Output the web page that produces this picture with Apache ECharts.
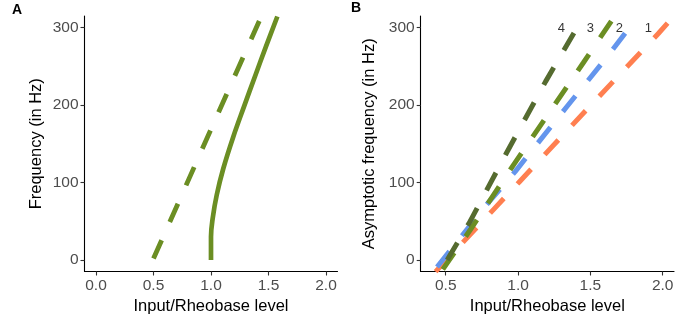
<!DOCTYPE html>
<html>
<head>
<meta charset="utf-8">
<script src="https://cdn.jsdelivr.net/npm/echarts@6/dist/echarts.min.js"></script>
<style>
html,body{margin:0;padding:0;background:#fff;}
#c{width:699px;height:325px;}
</style>
</head>
<body>
<div id="c"></div>
<script>
// ---- Data ----
// Panel A
const aDashed = [[0.50, 2], [1.44, 315]];
const aSolid = [[1.00, 0], [1.00, 30], [1.015, 54], [1.05, 84], [1.107, 118], [1.194, 159], [1.29, 199], [1.383, 237], [1.48, 276], [1.577, 314]];
// Panel B: four asymptotic-frequency lines
const bLine1 = [[0.43, -15], [0.83, 65], [1.01, 101], [1.50, 199], [1.97, 292], [2.06, 311]];
const bLine2 = [[0.44, -9], [0.79, 73], [0.98, 114], [1.33, 196], [1.59, 256], [1.76, 297]];
const bLine3 = [[0.48, -12], [0.67, 39], [0.97, 123], [1.45, 254], [1.67, 315]];
const bLine4 = [[0.51, 0], [0.66, 47], [0.92, 138], [1.19, 230], [1.40, 297]];
const bLabelText = ['4', '3', '2', '1'];
const bLabelX = [1.30, 1.50, 1.70, 1.90];
const bLabelY = [298, 298, 298, 298];
// Tick labels
const xTicksA = [0, 0.5, 1.0, 1.5, 2.0];
const xTicksB = [0.5, 1.0, 1.5, 2.0];
const yTicks = [0, 100, 200, 300];

const FONT = "'Liberation Sans', Arial, sans-serif";
const chart = echarts.init(document.getElementById('c'), null, {renderer: 'canvas'});

function xAxisDef(gridIndex, min, max, ticks) {
  return {
    type: 'value', gridIndex, min, max,
    name: 'Input/Rheobase level', nameLocation: 'middle', nameGap: 25,
    nameTextStyle: {fontFamily: FONT, fontSize: 16.5, color: '#000'},
    axisLine: {show: true, onZero: false, lineStyle: {color: '#000', width: 1.1}},
    axisTick: {show: true, length: 4, customValues: ticks, lineStyle: {color: '#333', width: 1.1}},
    axisLabel: {customValues: ticks, margin: 6, fontFamily: FONT, fontSize: 15.5, color: '#4D4D4D',
      formatter: v => Number(v).toFixed(1)},
    splitLine: {show: false}
  };
}
function yAxisDef(gridIndex, name, gap) {
  return {
    type: 'value', gridIndex, min: -14.8, max: 314.6,
    name, nameLocation: 'middle', nameGap: gap,
    nameTextStyle: {fontFamily: FONT, fontSize: 16.5, color: '#000'},
    axisLine: {show: true, onZero: false, lineStyle: {color: '#000', width: 1.1}},
    axisTick: {show: true, length: 4, customValues: yTicks, lineStyle: {color: '#333', width: 1.1}},
    axisLabel: {customValues: yTicks, margin: 6, fontFamily: FONT, fontSize: 15.5, color: '#4D4D4D'},
    splitLine: {show: false}
  };
}
function lineDef(xi, data, color, dashed, width) {
  return {
    type: 'line', xAxisIndex: xi, yAxisIndex: xi, data,
    showSymbol: false, symbol: 'none', smooth: false, clip: true, animation: false,
    lineStyle: {color, width, type: dashed ? [20, 20] : 'solid', cap: 'butt'}
  };
}
function smoothDef(xi, data, color, width) {
  const s = lineDef(xi, data, color, false, width);
  s.smooth = 0.4;
  return s;
}

const option = {
  animation: false,
  backgroundColor: '#fff',
  title: [
    {text: 'A', left: 12, top: 3, padding: 0, textStyle: {fontFamily: FONT, fontSize: 14, fontWeight: 'bold', color: '#000'}},
    {text: 'B', left: 351, top: 1, padding: 0, textStyle: {fontFamily: FONT, fontSize: 14, fontWeight: 'bold', color: '#000'}}
  ],
  grid: [
    {left: 84.5, top: 16, width: 253, height: 255.5},
    {left: 420.7, top: 16, width: 253.3, height: 255.5}
  ],
  xAxis: [xAxisDef(0, -0.1, 2.1, xTicksA), xAxisDef(1, 0.327, 2.078, xTicksB)],
  yAxis: [yAxisDef(0, 'Frequency (in Hz)', 40), yAxisDef(1, 'Asymptotic frequency (in Hz)', 43)],
  series: [
    lineDef(0, aDashed, '#6B8E23', true, 4.8),
    smoothDef(0, aSolid, '#6B8E23', 4.7),
    lineDef(1, bLine1, '#FF7F50', true, 5),
    lineDef(1, bLine2, '#6495ED', true, 5),
    lineDef(1, bLine3, '#6B8E23', true, 5),
    lineDef(1, bLine4, '#556B2F', true, 5),
    {
      type: 'scatter', xAxisIndex: 1, yAxisIndex: 1, symbolSize: 0, animation: false,
      data: bLabelText.map((t, i) => ({name: t, value: [bLabelX[i], bLabelY[i]]})),
      label: {show: true, position: 'inside', formatter: '{b}', fontFamily: FONT, fontSize: 13, color: '#000'}
    }
  ]
};
chart.setOption(option);
</script>
</body>
</html>
